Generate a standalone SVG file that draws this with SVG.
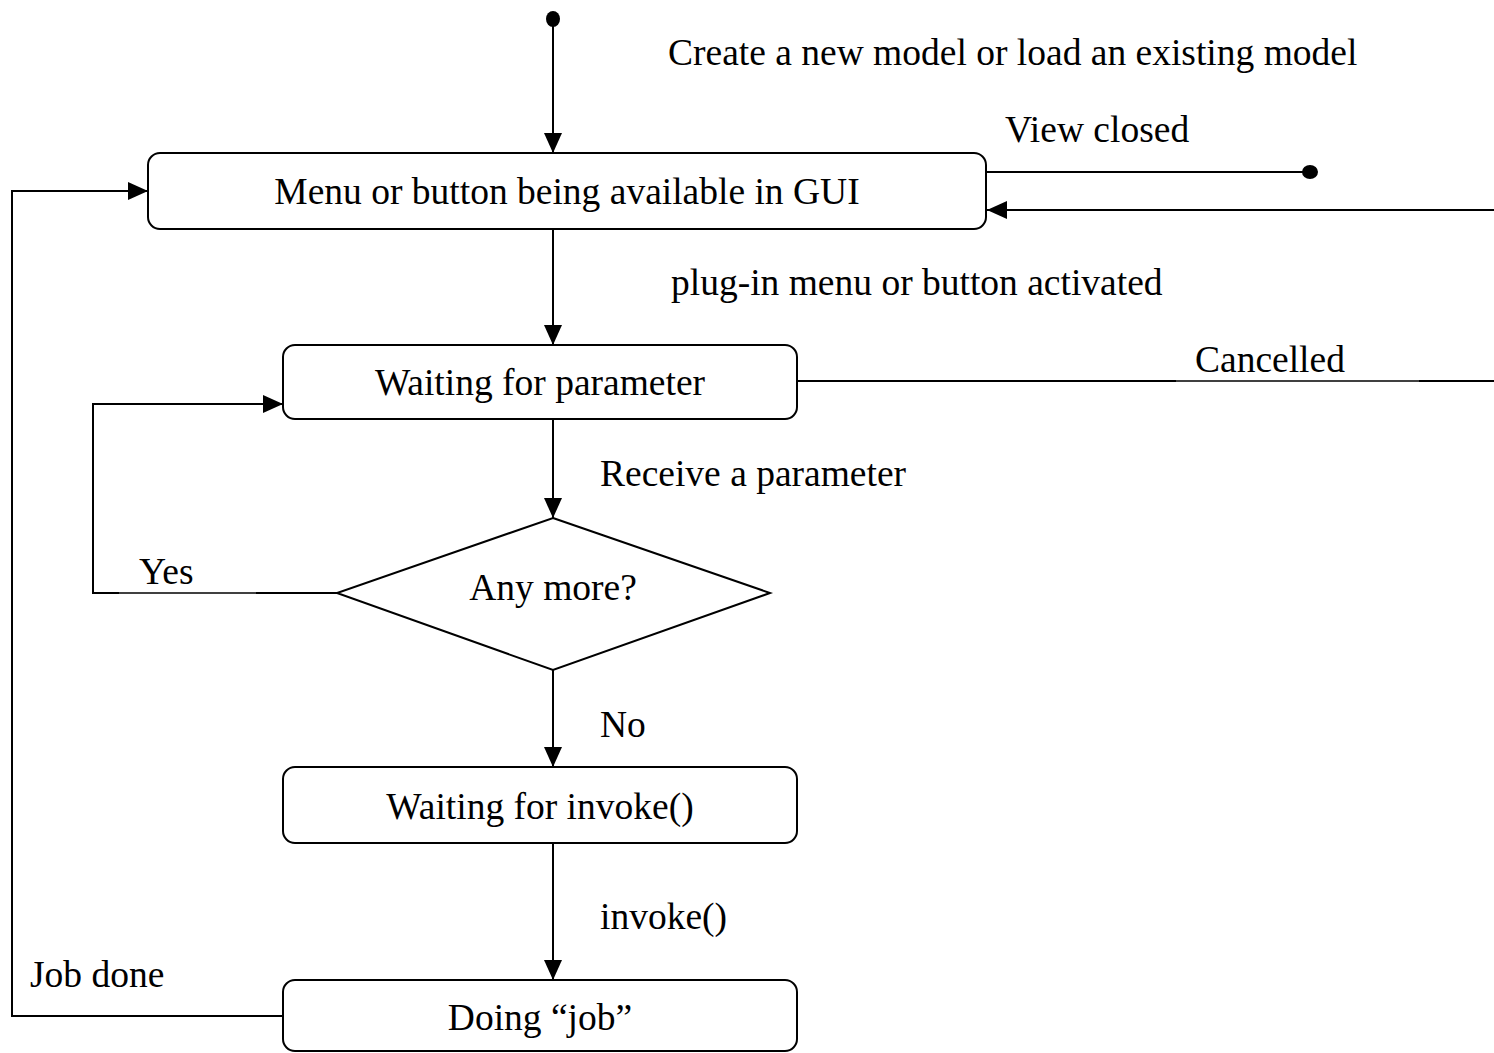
<svg xmlns="http://www.w3.org/2000/svg" width="1494" height="1053" viewBox="0 0 1494 1053">
<defs>
<style>
.node{fill:#fff;stroke:#000;stroke-width:2}
.ln{fill:none;stroke:#000;stroke-width:2}
.thin{fill:none;stroke:#000;stroke-width:1.5}
text{font-family:"Liberation Serif","Times New Roman",serif;font-size:37.5px;fill:#000}
.c{text-anchor:middle}
</style>
<marker id="arr" viewBox="0 0 20 18" refX="20" refY="9" markerWidth="20" markerHeight="18" markerUnits="userSpaceOnUse" orient="auto">
<path d="M0,0 L20,9 L0,18 Z" fill="#000"/>
</marker>
</defs>
<g id="connectors">
<ellipse cx="553" cy="19" rx="7" ry="8" fill="#000"/>
<line class="ln" x1="553" y1="26" x2="553" y2="153" marker-end="url(#arr)"/>
<text x="668" y="65">Create a new model or load an existing model</text>
<line class="ln" x1="986" y1="172" x2="1310" y2="172"/>
<ellipse cx="1310" cy="172" rx="8" ry="7" fill="#000"/>
<text x="1005" y="142">View closed</text>
<line class="ln" x1="1494" y1="210" x2="987" y2="210" marker-end="url(#arr)"/>
<line class="ln" x1="553" y1="229" x2="553" y2="345" marker-end="url(#arr)"/>
<text x="671" y="295">plug-in menu or button activated</text>
<line class="ln" x1="797" y1="381" x2="1176" y2="381"/>
<line class="thin" x1="1176" y1="381" x2="1419" y2="381"/>
<line class="ln" x1="1419" y1="381" x2="1494" y2="381"/>
<text x="1195" y="372">Cancelled</text>
<line class="ln" x1="553" y1="419" x2="553" y2="518" marker-end="url(#arr)"/>
<text x="600" y="486">Receive a parameter</text>
<polyline class="ln" points="337,593 256,593"/>
<line class="thin" x1="256" y1="593" x2="119" y2="593"/>
<polyline class="ln" points="119,593 93,593 93,404 283,404" marker-end="url(#arr)"/>
<text x="139" y="584">Yes</text>
<line class="ln" x1="553" y1="670" x2="553" y2="767" marker-end="url(#arr)"/>
<text x="600" y="737">No</text>
<line class="ln" x1="553" y1="843" x2="553" y2="980" marker-end="url(#arr)"/>
<text x="600" y="929">invoke()</text>
<polyline class="ln" points="283,1016 12,1016 12,191 148,191" marker-end="url(#arr)"/>
<text x="30" y="987">Job done</text>
</g>
<g id="menu">
<rect class="node" x="148" y="153" width="838" height="76" rx="12"/>
<text class="c" x="567" y="204">Menu or button being available in GUI</text>
</g>
<g id="waiting-param">
<rect class="node" x="283" y="345" width="514" height="74" rx="12"/>
<text class="c" x="540" y="395">Waiting for parameter</text>
</g>
<g id="any-more">
<polygon class="node" points="553,518 770,593 553,670 337,593"/>
<text class="c" x="553" y="600">Any more?</text>
</g>
<g id="waiting-invoke">
<rect class="node" x="283" y="767" width="514" height="76" rx="12"/>
<text class="c" x="540" y="819">Waiting for invoke()</text>
</g>
<g id="doing-job">
<rect class="node" x="283" y="980" width="514" height="71" rx="12"/>
<text class="c" x="540" y="1030">Doing “job”</text>
</g>
</svg>
